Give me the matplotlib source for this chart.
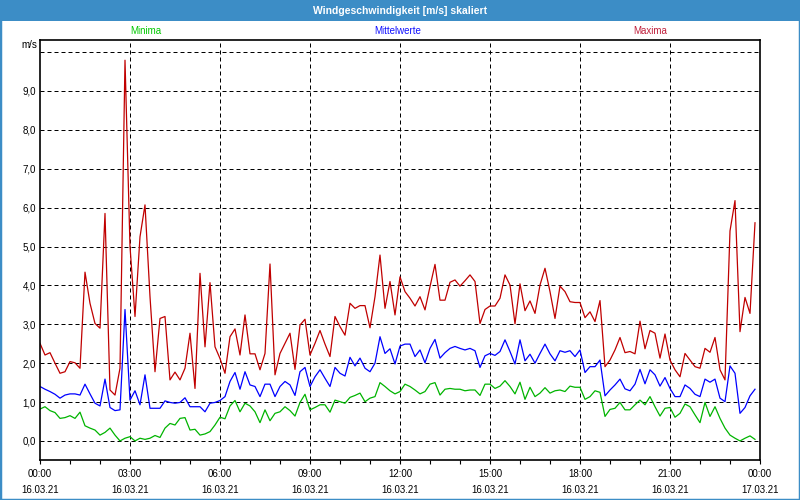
import numpy as np
import matplotlib
matplotlib.use("Agg")
import matplotlib.pyplot as plt
from matplotlib.patches import Rectangle
from matplotlib.ticker import MultipleLocator, FixedLocator

# 10-minute values, 00:00 .. 23:50 (16.03.21)
maxima = [2.51, 2.21, 2.27, 2.0, 1.74, 1.78, 2.04, 2.01, 1.87, 4.34, 3.54, 3.02, 2.9, 5.85, 1.31, 1.18,
          1.87, 9.79, 5.0, 3.2, 5.25, 6.07, 3.71, 1.78, 3.15, 3.2, 1.57, 1.77, 1.57, 1.87, 2.77, 1.35,
          4.31, 2.42, 4.07, 2.42, 2.12, 1.74, 2.68, 2.88, 2.21, 3.24, 2.24, 2.24, 1.83, 2.25, 4.55, 1.70,
          2.25, 2.51, 2.77, 1.84, 2.98, 3.13, 2.21, 2.51, 2.84, 2.49, 2.17, 3.20, 2.94, 2.72, 3.54, 3.41,
          3.48, 3.48, 2.91, 3.71, 4.78, 3.41, 4.10, 3.24,
          4.22, 3.84, 3.67, 3.47, 3.71, 3.37, 3.97, 4.54, 3.62, 3.62, 4.08, 4.14, 3.98, 4.12, 4.27, 4.10,
          3.02, 3.38, 3.47, 3.47, 3.67, 4.27, 4.01, 3.01, 4.04, 3.35, 3.60, 3.28, 4.01, 4.44, 3.84, 3.15,
          3.98, 3.84, 3.58, 3.56,
          3.56, 3.17, 3.32, 3.07, 3.61, 1.91, 2.08, 2.34, 2.66, 2.27, 2.30, 2.24, 3.08, 2.37, 2.84, 2.77,
          2.13, 2.75, 2.08, 1.83, 1.65, 2.25, 2.08, 1.91, 1.87, 2.38, 2.28, 2.66, 1.83, 1.57, 5.4, 6.18,
          2.81, 3.69, 3.28, 5.61]

mittelwerte = [1.40, 1.33, 1.27, 1.20, 1.10, 1.18, 1.21, 1.21, 1.18, 1.46, 1.21, 0.97, 0.90, 1.59, 0.86, 0.78,
               0.80, 3.38, 1.05, 1.29, 0.93, 1.70, 0.84, 0.84, 0.84, 1.03, 0.99, 0.97, 0.99, 1.11, 0.88, 0.88,
               0.88, 0.75, 0.97, 0.99, 1.04, 1.14, 1.53, 1.76, 1.33, 1.78, 1.44, 1.40, 1.14, 1.46, 1.46, 1.14,
               1.40, 1.53, 1.44, 1.17, 1.78, 1.89, 1.40, 1.65, 1.83, 1.61, 1.40, 1.89, 1.74, 1.67, 2.15, 1.93,
               2.13, 1.87, 1.78, 2.0, 2.68, 2.25, 2.37, 1.98,
               2.44, 2.49, 2.49, 2.17, 2.34, 2.01, 2.38, 2.61, 2.13, 2.27, 2.38, 2.43, 2.38, 2.34, 2.38, 2.32,
               1.89, 2.19, 2.25, 2.20, 2.30, 2.60, 2.30, 1.98, 2.60, 2.06, 2.23, 2.0, 2.25, 2.49, 2.24, 2.06,
               2.32, 2.28, 2.32, 2.17,
               2.34, 1.76, 1.91, 1.91, 2.08, 1.16, 1.31, 1.44, 1.59, 1.34, 1.29, 1.46, 1.84, 1.47, 1.83, 1.70,
               1.41, 1.63, 1.35, 1.14, 1.14, 1.44, 1.35, 1.20, 1.14, 1.59, 1.51, 1.59, 1.10, 1.01, 1.93, 1.74,
               0.71, 0.86, 1.16, 1.33]

minima = [0.82, 0.88, 0.78, 0.73, 0.58, 0.60, 0.65, 0.58, 0.74, 0.39, 0.33, 0.28, 0.15, 0.22, 0.33, 0.15,
          0.0, 0.07, 0.11, 0.0, 0.07, 0.04, 0.07, 0.14, 0.09, 0.33, 0.45, 0.41, 0.58, 0.60, 0.28, 0.30,
          0.15, 0.18, 0.24, 0.41, 0.61, 0.57, 0.90, 1.04, 0.75, 0.97, 0.90, 0.75, 0.47, 0.80, 0.52, 0.71,
          0.75, 0.88, 0.78, 0.64, 0.99, 1.20, 0.80, 0.86, 0.93, 0.93, 0.74, 1.05, 1.01, 0.97, 1.12, 1.17,
          1.23, 1.01, 1.10, 1.14, 1.50, 1.40, 1.29, 1.21,
          1.27, 1.46, 1.40, 1.31, 1.21, 1.27, 1.46, 1.50, 1.18, 1.33, 1.35, 1.33, 1.33, 1.29, 1.31, 1.31,
          1.17, 1.46, 1.46, 1.35, 1.41, 1.55, 1.40, 1.21, 1.51, 1.07, 1.38, 1.14, 1.23, 1.37, 1.23, 1.29,
          1.31, 1.27, 1.41, 1.38,
          1.38, 1.07, 1.14, 1.29, 1.25, 0.63, 0.81, 0.84, 0.99, 0.80, 0.80, 0.93, 1.05, 0.93, 1.14, 0.88,
          0.64, 0.84, 0.86, 0.61, 0.71, 0.95, 0.88, 0.67, 0.47, 0.99, 0.63, 0.88, 0.58, 0.33, 0.15, 0.07,
          0.0, 0.07, 0.13, 0.04]

tick_hours = [0, 3, 6, 9, 12, 15, 18, 21, 24]
tick_labels = ["00:00\n16.03.21", "03:00\n16.03.21", "06:00\n16.03.21", "09:00\n16.03.21",
               "12:00\n16.03.21", "15:00\n16.03.21", "18:00\n16.03.21", "21:00\n16.03.21",
               "00:00\n17.03.21"]
y_ticks = [0, 1, 2, 3, 4, 5, 6, 7, 8, 9]

hours = np.arange(len(maxima)) / 6.0

plt.rcParams['font.family'] = ['Liberation Sans', 'DejaVu Sans']
plt.rcParams['font.size'] = 7

fig = plt.figure(figsize=(8, 5), dpi=100)
fig.patch.set_facecolor('white')

# window frame and title bar
fig.patches.append(Rectangle((0, 0), 1, 1, transform=fig.transFigure, fill=False,
                             edgecolor='#3c8dc6', linewidth=2.5))
fig.patches.append(Rectangle((0, 1 - 21 / 500), 1, 21 / 500, transform=fig.transFigure,
                             facecolor='#3c8dc6', edgecolor='none'))
fig.text(0.5, 1 - 10.5 / 500, "Windgeschwindigkeit [m/s] skaliert", color='white',
         ha='center', va='center', fontsize=7.5, fontweight='bold')

ax = fig.add_axes([40 / 800, 40 / 500, 720 / 800, 420 / 500])

ax.plot(hours, minima, color='#00b400', lw=0.9)
ax.plot(hours, mittelwerte, color='#0000ff', lw=0.9)
ax.plot(hours, maxima, color='#c00000', lw=0.9)

ax.set_xlim(0, 24)
ax.set_ylim(-0.49, 10.31)

# grid
for h in tick_hours[1:-1]:
    ax.axvline(h, color='black', lw=0.72, linestyle=(0, (4, 3)), zorder=0)
for v in range(0, 11):
    ax.axhline(v, color='black', lw=0.72, linestyle=(0, (4, 3)), zorder=0)

ax.xaxis.set_major_locator(FixedLocator(tick_hours))
ax.set_xticklabels(tick_labels, linespacing=1.75)
ax.xaxis.set_minor_locator(MultipleLocator(1))
ax.tick_params(axis='x', which='both', direction='out', length=3, width=0.8, pad=3.3)
ax.set_yticks(y_ticks)
ax.set_yticklabels([f"{v},0" for v in y_ticks])
ax.tick_params(axis='y', length=0, pad=3)
ax.tick_params(top=False, right=False)

for s in ax.spines.values():
    s.set_linewidth(1.2)

ax.text(-3 / 720, 1 - 5 / 420, "m/s", transform=ax.transAxes, ha='right', va='center')

# legend labels above the plot
fig.text(146 / 800, 1 - 31 / 500, "Minima", color='#00c800', ha='center', va='center')
fig.text(398 / 800, 1 - 31 / 500, "Mittelwerte", color='#1010ff', ha='center', va='center')
fig.text(650 / 800, 1 - 31 / 500, "Maxima", color='#c0203c', ha='center', va='center')

fig.savefig("out.png", dpi=100)
